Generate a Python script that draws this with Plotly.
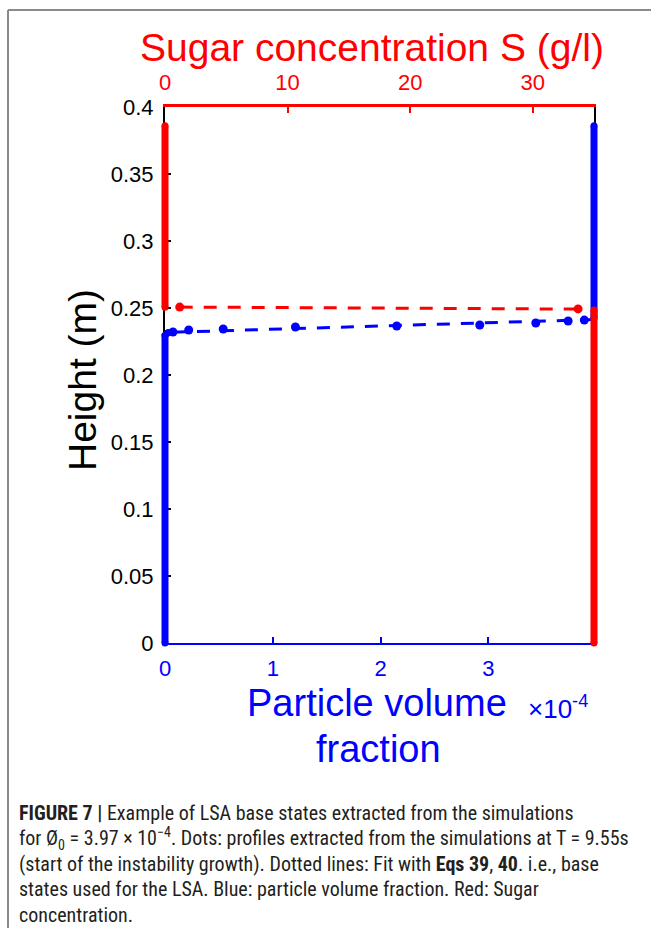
import plotly.graph_objects as go

# ---------------- data ----------------
# Particle volume fraction (units of 1e-4) vs height (m) -- blue
phi_left_x = [0.0, 0.0, 0.03]
phi_left_h = [0.0, 0.2295, 0.2318]
phi_dots_x = [0.074, 0.22, 0.54, 1.21, 2.15, 2.92, 3.44, 3.74, 3.89]
phi_dots_h = [0.2321, 0.2336, 0.2343, 0.2358, 0.2366, 0.2373, 0.2388, 0.2403, 0.2410]
phi_fit_x = [0.074, 3.98]
phi_fit_h = [0.2319, 0.2414]
phi_right_x = [3.98, 3.98]
phi_right_h = [0.2425, 0.386]

# Sugar concentration S (g/l) vs height (m) -- red
sugar_top_x = [0.0, 0.0]
sugar_top_h = [0.386, 0.2505]
sugar_dots_x = [1.2, 33.7]
sugar_dots_h = [0.2507, 0.2493]
sugar_fit_x = [1.2, 33.7]
sugar_fit_h = [0.2507, 0.2492]
sugar_bot_x = [35.0, 35.0]
sugar_bot_h = [0.2485, 0.0]

PHI_MAX = 3.98
S_MAX = 35.0
H_MAX = 0.4
phi_ticks = [0, 1, 2, 3]
s_ticks = [0, 10, 20, 30]
h_ticks = [0, 0.05, 0.1, 0.15, 0.2, 0.25, 0.3, 0.35, 0.4]
h_ticktext = ["0", "0.05", "0.1", "0.15", "0.2", "0.25", "0.3", "0.35", "0.4"]

caption_lines = [
    "<b>FIGURE 7 |</b> Example of LSA base states extracted from the simulations",
    "for Ø<sub>0</sub> = 3.97 × 10<sup>−4</sup>. Dots: profiles extracted from the simulations at T = 9.55s",
    "(start of the instability growth). Dotted lines: Fit with <b>Eqs 39</b>, <b>40</b>. i.e., base",
    "states used for the LSA. Blue: particle volume fraction. Red: Sugar",
    "concentration.",
]

# ---------------- layout geometry ----------------
W, H = 651, 928
PL, PR, PT, PB = 165, 594, 107, 643   # main plot box (px)
PAD = 8                                # extra room so thick lines are not clipped
ML, MR, MT, MB = PL - PAD, W - (PR + PAD), PT - PAD, H - (PB + PAD)
AW, AH = (PR + PAD) - (PL - PAD), (PB + PAD) - (PT - PAD)
dx = PAD / AW
dy = PAD / AH


def px_x(px):
    return (px - ML) / AW


def px_y(py):
    return ((H - MB) - py) / AH


def ext(lo, hi, npx):
    span = hi - lo
    per = span / npx
    return [lo - PAD * per, hi + PAD * per]


BLUE = "#0000ff"
RED = "#ff0000"
FONT = "Arial, Liberation Sans, sans-serif"
CAP_FONT = "Liberation Sans Narrow, Arial Narrow, Roboto Condensed, sans-serif"

fig = go.Figure()

# dummy traces so the visible axes render
fig.add_trace(go.Scatter(x=[None], y=[None], xaxis="x", yaxis="y", showlegend=False, hoverinfo="skip"))
fig.add_trace(go.Scatter(x=[None], y=[None], xaxis="x2", yaxis="y", showlegend=False, hoverinfo="skip"))

# blue: particle volume fraction (drawn on helper axes x3/y3 with identical scale)
fig.add_trace(go.Scatter(x=phi_fit_x, y=phi_fit_h, xaxis="x3", yaxis="y3", mode="lines",
                         line=dict(color=BLUE, width=3, dash="13px,11px"), showlegend=False))
fig.add_trace(go.Scatter(x=phi_dots_x, y=phi_dots_h, xaxis="x3", yaxis="y3", mode="markers",
                         marker=dict(color=BLUE, size=9), showlegend=False))
fig.add_trace(go.Scatter(x=phi_left_x, y=phi_left_h, xaxis="x3", yaxis="y3", mode="lines+markers",
                         line=dict(color=BLUE, width=7), marker=dict(color=BLUE, size=7), showlegend=False))
fig.add_trace(go.Scatter(x=phi_right_x, y=phi_right_h, xaxis="x3", yaxis="y3", mode="lines+markers",
                         line=dict(color=BLUE, width=7), marker=dict(color=BLUE, size=7), showlegend=False))

# red: sugar concentration (helper axes x4/y3)
fig.add_trace(go.Scatter(x=sugar_fit_x, y=sugar_fit_h, xaxis="x4", yaxis="y3", mode="lines",
                         line=dict(color=RED, width=3, dash="13px,11px"), showlegend=False))
fig.add_trace(go.Scatter(x=sugar_dots_x, y=sugar_dots_h, xaxis="x4", yaxis="y3", mode="markers",
                         marker=dict(color=RED, size=9), showlegend=False))
fig.add_trace(go.Scatter(x=sugar_top_x, y=sugar_top_h, xaxis="x4", yaxis="y3", mode="lines+markers",
                         line=dict(color=RED, width=7), marker=dict(color=RED, size=7), showlegend=False))
fig.add_trace(go.Scatter(x=sugar_bot_x, y=sugar_bot_h, xaxis="x4", yaxis="y3", mode="lines+markers",
                         line=dict(color=RED, width=7), marker=dict(color=RED, size=7), showlegend=False))

axis_common = dict(showgrid=False, zeroline=False, showline=True, ticks="inside", ticklen=6, tickwidth=2)

annotations = [
    dict(text="Sugar concentration S (g/l)", x=px_x(372), y=px_y(47), xref="paper", yref="paper",
         showarrow=False, font=dict(family=FONT, size=39, color=RED), xanchor="center", yanchor="middle"),
    dict(text="Height (m)", x=px_x(83), y=px_y(380), xref="paper", yref="paper", textangle=-90,
         showarrow=False, font=dict(family=FONT, size=39, color="black"), xanchor="center", yanchor="middle"),
    dict(text="Particle volume", x=px_x(377), y=px_y(703), xref="paper", yref="paper",
         showarrow=False, font=dict(family=FONT, size=38, color=BLUE), xanchor="center", yanchor="middle"),
    dict(text="fraction", x=px_x(378), y=px_y(749), xref="paper", yref="paper",
         showarrow=False, font=dict(family=FONT, size=38, color=BLUE), xanchor="center", yanchor="middle"),
    dict(text="×10<sup>-4</sup>", x=px_x(526), y=px_y(707), xref="paper", yref="paper",
         showarrow=False, font=dict(family=FONT, size=26, color=BLUE), xanchor="left", yanchor="middle"),
]
cap_y = [813, 838.5, 864, 889.5, 915]
for t, yy in zip(caption_lines, cap_y):
    annotations.append(dict(text=t, x=px_x(17), y=px_y(yy), xref="paper", yref="paper", showarrow=False,
                            xanchor="left", yanchor="middle", align="left",
                            font=dict(family=CAP_FONT, size=20, color="#231f20")))

shapes = [
    dict(type="line", xref="paper", yref="paper", x0=px_x(8), x1=px_x(660), y0=px_y(10), y1=px_y(10),
         line=dict(color="#8a8a8a", width=2)),
    dict(type="line", xref="paper", yref="paper", x0=px_x(8), x1=px_x(8), y0=px_y(10), y1=px_y(940),
         line=dict(color="#8a8a8a", width=2)),
]

fig.update_layout(
    width=W, height=H,
    margin=dict(l=ML, r=MR, t=MT, b=MB, pad=0),
    paper_bgcolor="white", plot_bgcolor="rgba(0,0,0,0)",
    showlegend=False,
    font=dict(family=FONT),
    xaxis=dict(domain=[dx, 1 - dx], anchor="y", side="bottom", range=[0, PHI_MAX],
               linecolor=BLUE, linewidth=2, tickcolor=BLUE, tickvals=phi_ticks,
               tickfont=dict(family=FONT, size=22, color=BLUE), ticklabelstandoff=5, **axis_common),
    xaxis2=dict(overlaying="x", anchor="y", side="top", range=[0, S_MAX],
                linecolor=RED, linewidth=2.5, tickcolor=RED, tickvals=s_ticks,
                tickfont=dict(family=FONT, size=22, color=RED), ticklabelstandoff=5, **axis_common),
    yaxis=dict(domain=[dy, 1 - dy], anchor="x", range=[0, H_MAX], mirror=True,
               linecolor="black", linewidth=2, tickcolor="black", tickvals=h_ticks, ticktext=h_ticktext,
               tickfont=dict(family=FONT, size=22, color="black"), ticklabelstandoff=5, **axis_common),
    xaxis3=dict(domain=[0, 1], anchor="y3", range=ext(0, PHI_MAX, PR - PL), visible=False, fixedrange=True),
    xaxis4=dict(overlaying="x3", anchor="y3", range=ext(0, S_MAX, PR - PL), visible=False, fixedrange=True),
    yaxis3=dict(domain=[0, 1], anchor="x3", range=ext(0, H_MAX, PB - PT), visible=False, fixedrange=True),
    annotations=annotations,
    shapes=shapes,
)

fig.write_html("out.html")
